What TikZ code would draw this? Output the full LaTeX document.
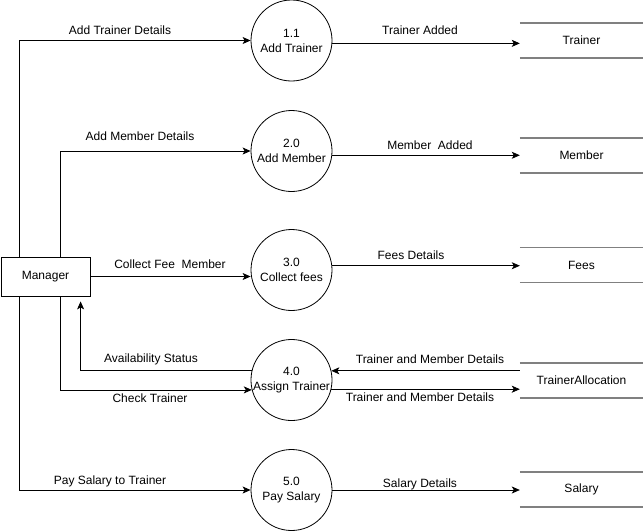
\documentclass[tikz,border=0pt]{standalone}
\usepackage{fontspec}
\setmainfont{Liberation Sans}
\usetikzlibrary{arrows.meta}
\begin{document}
\begin{tikzpicture}[x=1pt,y=-1pt,
  every node/.style={font=\fontsize{12}{15}\selectfont, inner sep=0pt},
  proc/.style={draw, circle, minimum size=81pt, align=center, line width=0.8pt},
  ent/.style={draw, rectangle, minimum width=89pt, minimum height=39pt, line width=0.8pt},
  store/.style={minimum width=123pt, minimum height=35pt},
  storeline/.style={draw=black!50, line width=1.5pt},
  flow/.style={draw, line width=0.8pt, -{Stealth[length=8pt,width=7pt,inset=2pt]}},
  lbl/.style={}]
\useasboundingbox (0,0) rectangle (643,531);
\fill[white] (0,0) rectangle (643,531);

% entity
\node[ent] (mgr) at (45.5,276.5) {Manager};

% processes
\node[proc] (p1) at (291.5,40.5) {1.1\\Add Trainer};
\node[proc] (p2) at (291.5,151) {2.0\\Add Member};
\node[proc] (p3) at (291.5,270) {3.0\\Collect fees};
\node[proc] (p4) at (291.5,380) {4.0\\Assign Trainer};
\node[proc] (p5) at (291.5,490) {5.0\\Pay Salary};

% data stores
\node[store] (s1) at (581.5,40.5) {Trainer};
\node[store] (s2) at (581.5,155.5) {Member};
\node[store] (s3) at (581.5,265) {Fees};
\node[store] (s4) at (581.5,380.5) {TrainerAllocation};
\node[store] (s5) at (581.5,489.5) {Salary};
\foreach \s in {s1,s2,s3,s4,s5}{
  \draw[storeline] (\s.north west) -- (\s.north east);
  \draw[storeline] (\s.south west) -- (\s.south east);
}

% flows from manager
\draw[flow] ([xshift=19pt]mgr.north west) |- (p1.west);
\draw[flow] ([xshift=60pt]mgr.north west) |- (p2.west);
\draw[flow] (mgr.east) -- (mgr.east -| p3.west);
\draw[flow, shorten >=5pt] (p4.166) -| ([xshift=80pt]mgr.south west);
\draw[flow] ([xshift=60pt]mgr.south west) |- (p4.194);
\draw[flow] ([xshift=19pt]mgr.south west) |- (p5.west);

% flows to stores
\draw[flow] (p1.-4) -- (p1.-4 -| s1.west);
\draw[flow] (p2.-6) -- (p2.-6 -| s2.west);
\draw[flow] (p3.6) -- (p3.6 -| s3.west);
\draw[flow] (p4.13 -| s4.west) -- (p4.13);
\draw[flow] (p4.-13) -- (p4.-13 -| s4.west);
\draw[flow] (p5.east) -- (p5.east -| s5.west);

% labels
\node[lbl] (l1) at (120,30) {Add Trainer Details};
\node[lbl] (l2) at (140,136) {Add Member Details};
\node[lbl] (l3) at (170,264) {Collect Fee\ \ Member};
\node[lbl] (l4) at (151,359) {Availability Status};
\node[lbl] (l5) at (150,398) {Check Trainer};
\node[lbl] (l6) at (110,481) {Pay Salary to Trainer};
\node[lbl] (l7) at (420,30) {Trainer Added};
\node[lbl] (l8) at (430,145) {Member\ \ Added};
\node[lbl] (l9) at (411,255) {Fees Details};
\node[lbl] (l10) at (430,359) {Trainer and Member Details};
\node[lbl] (l11) at (420,397) {Trainer and Member Details};
\node[lbl] (l12) at (420,484) {Salary Details};
\end{tikzpicture}
\end{document}
